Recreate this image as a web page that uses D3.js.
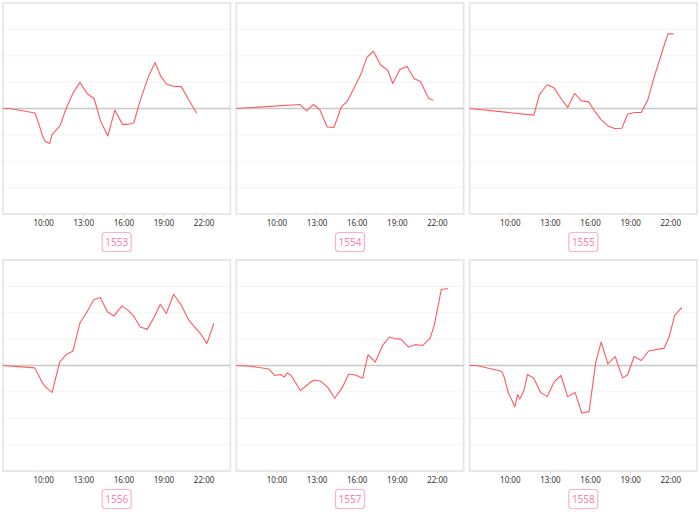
<!DOCTYPE html>
<html><head><meta charset="utf-8">
<script src="https://cdn.jsdelivr.net/npm/d3@7"></script>
<style>body{margin:0;background:#fff}svg{display:block}</style>
</head><body><svg id="c" width="700" height="515"></svg>
<script>
const labels = ["1553","1554","1555","1556","1557","1558"];
const tickHours = [10,13,16,19,22];
const yGrid = [-3,-2,-1,1,2,3];

const t1553 = [7,7.52,9.39,9.71,9.96,10.13,10.5,10.66,11.25,11.75,12.25,12.75,13.29,13.82,14.29,14.84,15.36,15.93,16.35,16.78,17.27,17.85,18.37,18.79,19.26,19.71,20.33,20.9,21.5];
const v1553 = [0,0,-0.17,-0.63,-1.05,-1.23,-1.33,-0.99,-0.67,0.04,0.6,0.99,0.57,0.37,-0.47,-1.04,-0.06,-0.6,-0.6,-0.55,0.32,1.18,1.74,1.23,0.91,0.85,0.83,0.32,-0.19];
const t1554 = [7,11.77,12.26,12.75,13.25,13.79,14.3,14.84,15.31,15.83,16.32,16.76,17.25,17.79,18.31,18.7,19.22,19.76,20.28,20.77,21.38,21.73];
const v1554 = [0,0.15,-0.09,0.15,-0.05,-0.7,-0.72,0.04,0.29,0.8,1.31,1.94,2.17,1.65,1.46,0.95,1.47,1.6,1.14,1.02,0.38,0.32];
const t1555 = [7,11.79,12.24,12.79,13.28,13.83,14.33,14.85,15.35,15.9,16.39,16.84,17.34,17.84,18.38,18.81,19.3,19.83,20.32,20.82,21.32,21.82,22.24];
const v1555 = [0,-0.25,0.55,0.9,0.8,0.38,0.04,0.57,0.29,0.25,-0.13,-0.43,-0.66,-0.76,-0.75,-0.22,-0.15,-0.15,0.32,1.24,2.03,2.83,2.83];
const t1556 = [7,9.38,9.95,10.25,10.67,11.24,11.74,12.24,12.74,13.29,13.79,14.28,14.8,15.3,15.9,16.35,16.77,17.27,17.79,18.29,18.76,19.21,19.76,20.33,20.9,21.75,22.25,22.77];
const v1556 = [0,-0.09,-0.66,-0.85,-1.02,0.13,0.42,0.55,1.6,2.04,2.49,2.58,2.04,1.88,2.26,2.09,1.88,1.46,1.37,1.82,2.32,1.97,2.7,2.29,1.71,1.22,0.83,1.6];
const t1557 = [7,8.06,9.43,9.88,10.3,10.6,10.8,11.1,11.79,12.29,12.79,13.34,13.83,14.36,14.9,15.4,15.9,16.45,16.85,17.39,17.94,18.44,18.84,19.31,19.88,20.38,20.95,21.5,21.8,22.05,22.32,22.82];
const v1557 = [0,-0.03,-0.13,-0.38,-0.34,-0.44,-0.28,-0.38,-0.95,-0.74,-0.55,-0.6,-0.83,-1.24,-0.86,-0.32,-0.36,-0.48,0.41,0.13,0.76,1.08,1.02,1.0,0.7,0.79,0.76,1.05,1.52,2.16,2.88,2.92];
const t1558 = [7,7.5,9.38,9.58,9.88,10.38,10.58,10.75,11.05,11.33,11.8,12.3,12.8,13.33,13.83,14.33,14.88,15.38,15.93,16.43,16.83,17.33,17.88,18.43,18.8,19.3,19.83,20.38,21.55,21.93,22.33,22.88];
const v1558 = [0,0,-0.22,-0.44,-1.02,-1.56,-1.1,-1.27,-0.95,-0.34,-0.48,-1.02,-1.18,-0.61,-0.38,-1.18,-1.02,-1.8,-1.75,0.13,0.89,0.06,0.34,-0.47,-0.36,0.34,0.19,0.55,0.66,1.1,1.9,2.2];

const times = [t1553,t1554,t1555,t1556,t1557,t1558];
const values = [v1553,v1554,v1555,v1556,v1557,v1558];

const svg = d3.select("#c");
const colW = 700/3;
const rowTop = [3, 260];
const plotH = 211;
const boxY = [242, 499];

labels.forEach((lab, i) => {
  const col = i % 3, row = Math.floor(i / 3);
  const x0 = col*colW + 3, x1 = (col+1)*colW - 3;
  const y0 = rowTop[row], y1 = y0 + plotH;
  const x = d3.scaleLinear().domain([7,24]).range([x0, x1]);
  const y = d3.scaleLinear().domain([-4,4]).range([y1, y0]);
  const g = svg.append("g");

  g.selectAll("line.grid").data(yGrid).join("line")
    .attr("x1", x0).attr("x2", x1)
    .attr("y1", d => y(d)).attr("y2", d => y(d))
    .attr("stroke", "#f3f3f3").attr("stroke-width", 1);

  g.append("rect").attr("x", x0).attr("y", y0)
    .attr("width", x1-x0).attr("height", y1-y0)
    .attr("fill", "none").attr("stroke", "#e6e6e6").attr("stroke-width", 1.8);

  g.append("line").attr("x1", x0).attr("x2", x1)
    .attr("y1", y(0)).attr("y2", y(0))
    .attr("stroke", "#c8c8c8").attr("stroke-width", 1.5);

  const axis = d3.axisBottom(x).tickValues(tickHours)
    .tickFormat(d => d + ":00").tickSize(3).tickPadding(3);
  const ag = g.append("g").attr("transform", `translate(0,${y1})`).call(axis);
  ag.select(".domain").remove();
  ag.selectAll(".tick line").attr("stroke", "#dddddd");
  ag.selectAll(".tick text").attr("fill", "#333").attr("font-size", 8)
    .attr("font-family", "'Noto Sans', sans-serif");

  const pts = times[i].map((t, k) => [t, values[i][k]]);
  g.append("path").datum(pts)
    .attr("fill", "none").attr("stroke", "#ff5a5f").attr("stroke-width", 1.1)
    .attr("stroke-linejoin", "round")
    .attr("d", d3.line().x(d => x(d[0])).y(d => y(d[1])));

  const cx = (x0 + x1) / 2;
  g.append("rect").attr("x", cx - 14.5).attr("y", boxY[row] - 9.5)
    .attr("width", 29).attr("height", 19).attr("rx", 3)
    .attr("fill", "#fff").attr("stroke", "#ffb0c8").attr("stroke-width", 1.2);
  g.append("text").attr("x", cx).attr("y", boxY[row] + 3.6)
    .attr("text-anchor", "middle").attr("font-size", 10)
    .attr("font-family", "'Noto Sans', sans-serif")
    .attr("fill", "#ff7fa6").text(lab);
});
</script></body></html>
